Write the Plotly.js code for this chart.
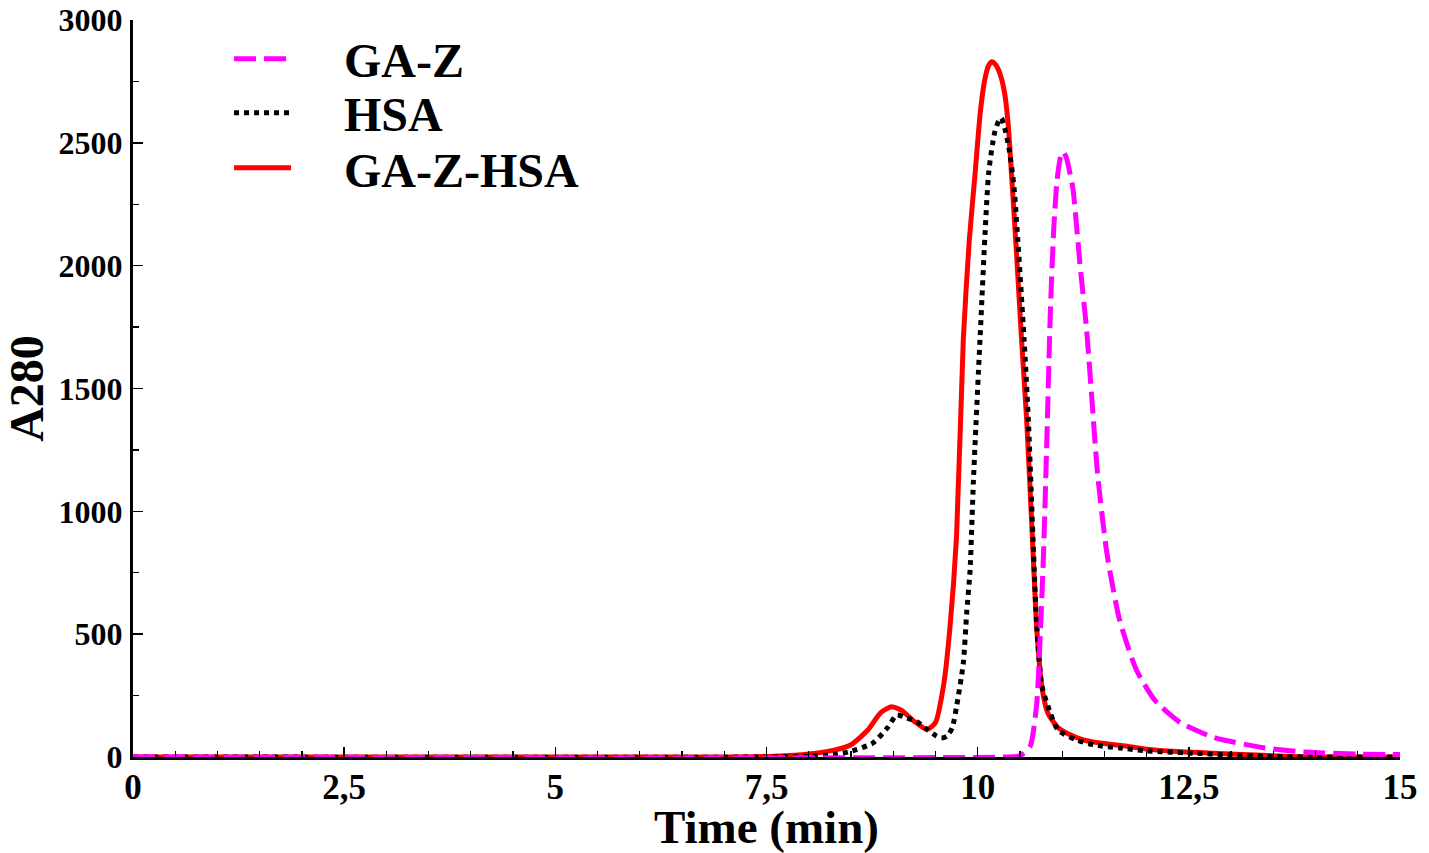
<!DOCTYPE html>
<html>
<head>
<meta charset="utf-8">
<script src="https://cdn.plot.ly/plotly-3.0.1.min.js"></script>
<style>html,body{margin:0;padding:0;background:#fff;}#chart{width:1429px;height:853px;}</style>
</head>
<body>
<div id="chart"></div>
<script>
// GA-Z-HSA (red, solid)
const timeGAZHSA = [0, 7.0, 7.6, 8.0, 8.3, 8.5, 8.7, 8.85, 8.98, 9.1, 9.25, 9.4, 9.5, 9.6, 9.67, 9.75, 9.83, 9.9, 9.97, 10.03, 10.08, 10.13, 10.17, 10.22, 10.27, 10.32, 10.36, 10.40, 10.46, 10.52, 10.58, 10.64, 10.70, 10.76, 10.83, 10.95, 11.05, 11.25, 11.45, 11.8, 12.0, 12.36, 12.8, 13.3, 13.7, 14.0, 15.0];
const valGAZHSA  = [0, 0, 3, 12, 28, 50, 110, 180, 205, 190, 145, 112, 140, 300, 520, 900, 1700, 2100, 2377, 2620, 2750, 2815, 2830, 2815, 2775, 2700, 2580, 2377, 2050, 1697, 1372, 950, 520, 286, 179, 120, 98, 70, 57, 42, 32, 22, 15, 8, 2, 0, 0];

// HSA (black, dotted)
const timeHSA = [0, 7.5, 8.0, 8.3, 8.49, 8.76, 8.94, 9.04, 9.15, 9.28, 9.41, 9.5, 9.57, 9.64, 9.70, 9.75, 9.83, 9.87, 9.91, 9.95, 10.03, 10.13, 10.2, 10.25, 10.28, 10.32, 10.37, 10.43, 10.55, 10.60, 10.70, 10.76, 10.86, 10.95, 11.17, 11.4, 11.68, 12.0, 12.59, 13.0, 13.5, 14.0, 15.0];
const valHSA  = [0, 0, 3, 10, 22, 57, 122, 171, 160, 144, 110, 88, 77, 85, 120, 205, 382, 586, 760, 1127, 1717, 2377, 2540, 2590, 2601, 2560, 2480, 2320, 1697, 1372, 530, 290, 179, 110, 69, 48, 37, 25, 15, 8, 2, 0, 0];

// GA-Z (magenta, dashed)
const timeGAZ = [0, 10.3, 10.5, 10.62, 10.70, 10.74, 10.78, 10.82, 10.86, 10.90, 10.94, 10.98, 11.01, 11.05, 11.09, 11.13, 11.21, 11.29, 11.35, 11.42, 11.53, 11.68, 11.88, 12.1, 12.4, 12.75, 12.9, 13.38, 13.89, 14.5, 15.0];
const valGAZ  = [0, 0, 5, 42, 220, 490, 830, 1300, 1807, 2145, 2349, 2440, 2464, 2440, 2380, 2308, 2010, 1738, 1467, 1150, 830, 558, 354, 230, 140, 85, 70, 38, 20, 12, 10];

const seriesNames = ["GA-Z", "HSA", "GA-Z-HSA"];

const xTickVals = [0, 2.5, 5, 7.5, 10, 12.5, 15];
const xTickText = ["0", "2,5", "5", "7,5", "10", "12,5", "15"];
const yTickVals = [0, 500, 1000, 1500, 2000, 2500, 3000];
const yTickText = ["0", "500", "1000", "1500", "2000", "2500", "3000"];

const FONT = "'Liberation Serif', 'Times New Roman', serif";
const PAD = "\u00A0\u00A0\u00A0\u00A0";

const traces = [
  {x: timeGAZHSA, y: valGAZHSA, name: PAD + seriesNames[2], type: 'scatter', mode: 'lines', legend: 'legend3',
   line: {color: '#ff0000', width: 5, shape: 'spline', smoothing: 0.6}},
  {x: timeHSA, y: valHSA, name: PAD + seriesNames[1], type: 'scatter', mode: 'lines', legend: 'legend2',
   line: {color: '#000000', width: 5, dash: '5px,5px', shape: 'spline', smoothing: 0.6}},
  {x: timeGAZ, y: valGAZ, name: PAD + seriesNames[0], type: 'scatter', mode: 'lines', legend: 'legend',
   line: {color: '#ff00ff', width: 5, dash: '22px,8px', shape: 'spline', smoothing: 0.6}}
];

function leg(yPaper) {
  return {x: 0.0758, y: yPaper, xanchor: 'left', yanchor: 'middle',
          font: {family: FONT, size: 48, weight: 'bold', color: '#000'},
          itemwidth: 57, bgcolor: 'rgba(0,0,0,0)', borderwidth: 0};
}

const layout = {
  width: 1429, height: 853,
  margin: {l: 133, r: 29, t: 20, b: 96},
  paper_bgcolor: '#ffffff', plot_bgcolor: '#ffffff',
  font: {family: FONT, color: '#000', size: 32, weight: 'bold'},
  showlegend: true,
  legend: leg(0.947),
  legend2: leg(0.8738),
  legend3: leg(0.799),
  xaxis: {
    range: [0, 15], showgrid: false, zeroline: false,
    showline: true, linecolor: '#000', linewidth: 3,
    ticks: 'inside', ticklen: 10, tickwidth: 1.5, tickcolor: '#000',
    tickvals: xTickVals, ticktext: xTickText,
    tickfont: {family: FONT, size: 35, weight: 'bold', color: '#000'},
    ticklabelstandoff: -3,
    minor: {dtick: 0.5, ticks: 'inside', ticklen: 6, tickwidth: 1.2, tickcolor: '#000', showgrid: false},
    title: {text: 'Time (min)', font: {family: FONT, size: 47, weight: 'bold', color: '#000'}, standoff: 5}
  },
  yaxis: {
    range: [0, 3000], showgrid: false, zeroline: false,
    showline: true, linecolor: '#000', linewidth: 3,
    ticks: 'inside', ticklen: 10, tickwidth: 1.5, tickcolor: '#000',
    tickvals: yTickVals, ticktext: yTickText,
    tickfont: {family: FONT, size: 32, weight: 'bold', color: '#000'},
    ticklabelstandoff: 1,
    minor: {dtick: 250, ticks: 'inside', ticklen: 6, tickwidth: 1.2, tickcolor: '#000', showgrid: false},
    title: {text: 'A280', font: {family: FONT, size: 48, weight: 'bold', color: '#000'}, standoff: 8}
  }
};

Plotly.newPlot('chart', traces, layout, {displayModeBar: false, staticPlot: true});
</script>
</body>
</html>
